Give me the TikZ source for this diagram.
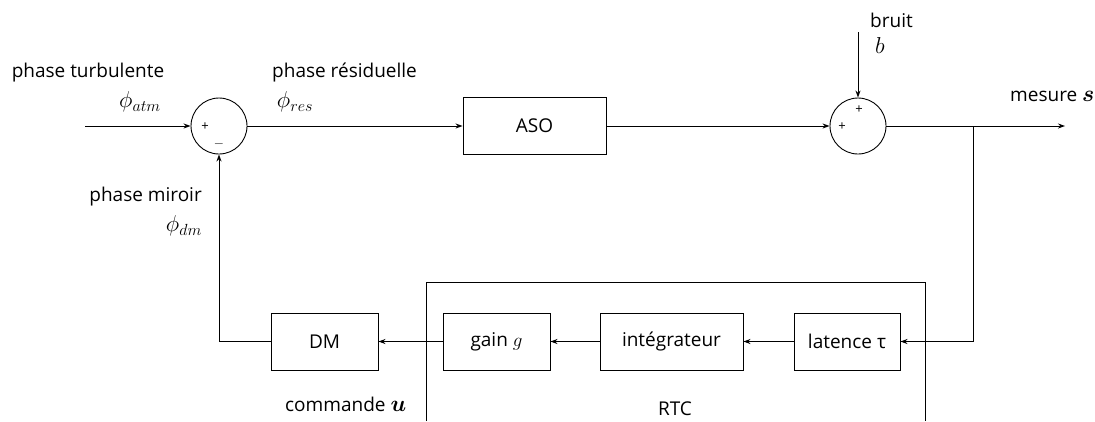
\RequirePackage{fix-cm}
\documentclass[tikz,border=0pt]{standalone}
\usepackage{amsmath,amssymb,bm}
\usepackage{fontspec}
\setmainfont{Open Sans}
\usetikzlibrary{arrows.meta}
\begin{document}
\begin{tikzpicture}[x=1pt,y=-1pt,
  blk/.style={draw,line width=0.9pt,minimum width=#1,minimum height=57pt,inner sep=0pt,font=\fontsize{19}{21}\selectfont},
  sumc/.style={draw,circle,line width=0.9pt,minimum size=56pt,inner sep=0pt},
  lbl/.style={inner sep=0pt,font=\fontsize{19}{21}\selectfont},
  mlbl/.style={inner sep=0pt,font=\fontsize{23}{25}\selectfont},
  sgn/.style={inner sep=0pt,font=\fontsize{13}{14}\selectfont},
  conn/.style={line width=0.9pt},
  arr/.style={line width=0.9pt,-{Stealth[length=7pt,width=5pt]}}]
\useasboundingbox (0,0) rectangle (1095,421);
% sum junctions
\node[sumc] (s1) at (219,126) {};
\node[sumc] (s2) at (858,126) {};
\node[sgn] at (205,127) {+};
\node[sgn] at (219,144) {$-$};
\node[sgn] at (842,127) {+};
\node[sgn] at (859,110) {+};
% blocks
\node[blk=143pt] (aso) at (534.5,126) {ASO};
\node[blk=106pt] (lat) at (847,341.5) {latence τ};
\node[blk=143pt] (int) at (671.5,341.5) {intégrateur};
\node[blk=107pt] (gain) at (496.5,341.5) {gain $g$};
\node[blk=107pt] (dm) at (324.5,341.5) {DM};
% RTC frame
\draw[conn] (426,421) -- (426,282) -- (925,282) -- (925,421);
\node[lbl] (rtc) at (675,409) {RTC};
% coordinates
\coordinate (in) at (85,126);
\coordinate (out) at (1065,126);
\coordinate (br) at (973,126);
\coordinate (brd) at (973,341.5);
\coordinate (nz) at (858,32);
\coordinate (dmc) at (219,341.5);
% connectors
\draw[arr] (in) -- (s1.west);
\draw[arr] (s1.east) -- (aso.west);
\draw[arr] (aso.east) -- (s2.west);
\draw[arr] (s2.east) -- (out);
\draw[arr] (nz) -- (s2.north);
\draw[arr] (br) -- (brd) -- (lat.east);
\draw[arr] (lat.west) -- (int.east);
\draw[arr] (int.west) -- (gain.east);
\draw[arr] (gain.west) -- (dm.east);
\draw[arr] (dm.west) -- (dmc) -- (s1.south);
% labels
\node[lbl] at (88,73) {phase turbulente};
\node[mlbl] at (140,102) {$\phi_{atm}$};
\node[lbl,anchor=west] at (272,73) {phase résiduelle};
\node[mlbl] at (295,102) {$\phi_{res}$};
\node[lbl,anchor=west] at (870,20) {bruit};
\node[mlbl] at (880,46) {$b$};
\node[lbl,anchor=west] at (1010,96) {mesure \fontsize{23}{25}\selectfont$\bm{s}$};
\node[lbl,anchor=east] at (202,197) {phase miroir};
\node[mlbl,anchor=east] at (202,226) {$\phi_{dm}$};
\node[lbl,anchor=west] at (285,404) {commande \fontsize{23}{25}\selectfont$\bm{u}$};
\end{tikzpicture}
\end{document}
